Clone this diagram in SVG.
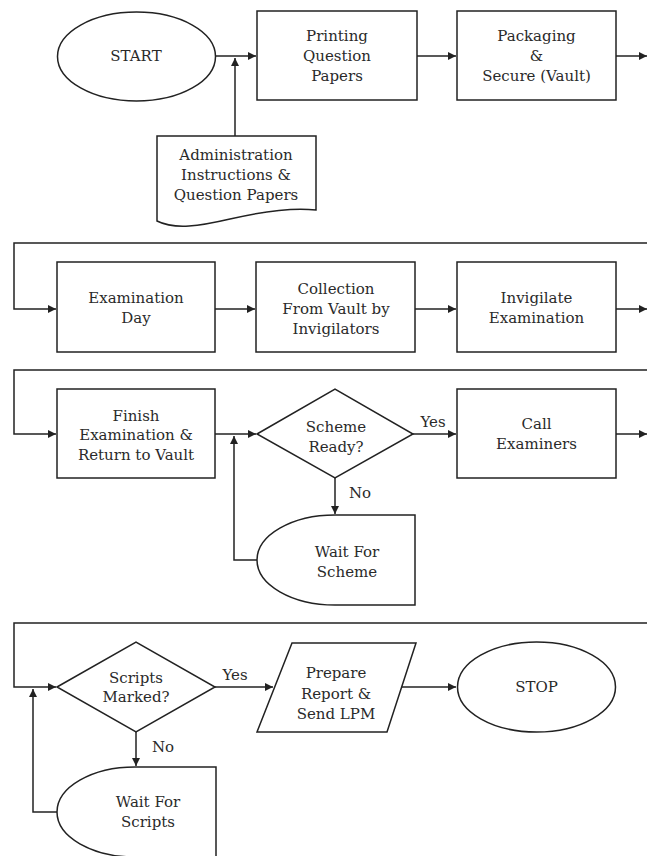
<svg xmlns="http://www.w3.org/2000/svg" width="647" height="856" viewBox="0 0 647 856">
<defs>
<style>
.s{fill:#fff;stroke:#222;stroke-width:1.5}
.c{fill:none;stroke:#222;stroke-width:1.5}
text{font-family:"DejaVu Serif","Liberation Serif",serif;font-size:15px;fill:#2a2a2a;text-anchor:middle}
</style>
<marker id="ah" viewBox="0 0 10 10" refX="10" refY="5" markerWidth="9" markerHeight="8" markerUnits="userSpaceOnUse" orient="auto">
<path d="M0,0 L10,5 L0,10 z" fill="#222"/>
</marker>
</defs>
<rect width="647" height="856" fill="#fff"/>
<g id="connectors">
<path class="c" d="M216,56 L256,56" marker-end="url(#ah)"/>
<path class="c" d="M235,136 L235,58" marker-end="url(#ah)"/>
<path class="c" d="M417,56 L456,56" marker-end="url(#ah)"/>
<path class="c" d="M616,56 L647,56" marker-end="url(#ah)"/>
<path class="c" d="M647,243 L14,243 L14,309 L56,309" marker-end="url(#ah)"/>
<path class="c" d="M215,309 L255,309" marker-end="url(#ah)"/>
<path class="c" d="M415,309 L456,309" marker-end="url(#ah)"/>
<path class="c" d="M616,309 L647,309" marker-end="url(#ah)"/>
<path class="c" d="M647,370 L14,370 L14,434 L56,434" marker-end="url(#ah)"/>
<path class="c" d="M215,434 L256,434" marker-end="url(#ah)"/>
<path class="c" d="M257,560 L234,560 L234,436" marker-end="url(#ah)"/>
<path class="c" d="M335,478 L335,514" marker-end="url(#ah)"/>
<path class="c" d="M413,434 L456,434" marker-end="url(#ah)"/>
<path class="c" d="M616,434 L647,434" marker-end="url(#ah)"/>
<path class="c" d="M647,623 L14,623 L14,687 L56,687" marker-end="url(#ah)"/>
<path class="c" d="M57,812 L33,812 L33,689" marker-end="url(#ah)"/>
<path class="c" d="M136,732 L136,766" marker-end="url(#ah)"/>
<path class="c" d="M215,687 L273,687" marker-end="url(#ah)"/>
<path class="c" d="M401,687 L456,687" marker-end="url(#ah)"/>
</g>
<g id="start"><ellipse class="s" cx="136.5" cy="56.5" rx="79" ry="44.5"/><text x="136" y="61">START</text></g>
<g id="printing"><rect class="s" x="257" y="11" width="160" height="89"/><text x="337" y="41">Printing</text><text x="337" y="61">Question</text><text x="337" y="81">Papers</text></g>
<g id="packaging"><rect class="s" x="457" y="11" width="159" height="89"/><text x="536.5" y="41">Packaging</text><text x="536.5" y="61">&amp;</text><text x="536.5" y="81">Secure (Vault)</text></g>
<g id="admin"><path class="s" d="M157,136 L316,136 L316,210 C290,207 260,212 230,219 C200,226 175,230 157,221 Z"/><text x="236" y="160">Administration</text><text x="236" y="180">Instructions &amp;</text><text x="236" y="200">Question Papers</text></g>
<g id="examday"><rect class="s" x="57" y="262" width="158" height="90"/><text x="136" y="303">Examination</text><text x="136" y="323">Day</text></g>
<g id="collection"><rect class="s" x="256" y="262" width="159" height="90"/><text x="336" y="294">Collection</text><text x="336" y="314">From Vault by</text><text x="336" y="334">Invigilators</text></g>
<g id="invigilate"><rect class="s" x="457" y="262" width="159" height="90"/><text x="536.5" y="303">Invigilate</text><text x="536.5" y="323">Examination</text></g>
<g id="finish"><rect class="s" x="57" y="389" width="158" height="89"/><text x="136" y="421">Finish</text><text x="136" y="440">Examination &amp;</text><text x="136" y="460">Return to Vault</text></g>
<g id="scheme"><path class="s" d="M257,434 L335,389 L413,434 L335,478 Z"/><text x="336" y="432">Scheme</text><text x="336" y="452">Ready?</text></g>
<g id="yes1"><text x="433" y="427">Yes</text></g>
<g id="no1"><text x="360" y="498">No</text></g>
<g id="waitscheme"><path class="s" d="M415,515 L335,515 A78,45 0 0 0 335,605 L415,605 Z"/><text x="347" y="557">Wait For</text><text x="347" y="577">Scheme</text></g>
<g id="call"><rect class="s" x="457" y="389" width="159" height="89"/><text x="536.5" y="429">Call</text><text x="536.5" y="449">Examiners</text></g>
<g id="scripts"><path class="s" d="M57,687 L136,642 L215,687 L136,732 Z"/><text x="136" y="683">Scripts</text><text x="136" y="702">Marked?</text></g>
<g id="yes2"><text x="235" y="680">Yes</text></g>
<g id="no2"><text x="163" y="752">No</text></g>
<g id="waitscripts"><path class="s" d="M216,767 L135,767 A78,45 0 0 0 135,857 L216,857 Z"/><text x="148" y="807">Wait For</text><text x="148" y="827">Scripts</text></g>
<g id="prepare"><path class="s" d="M292,643 L416,643 L387,732 L257,732 Z"/><text x="336" y="678">Prepare</text><text x="336" y="699">Report &amp;</text><text x="336" y="719">Send LPM</text></g>
<g id="stop"><ellipse class="s" cx="536.5" cy="687" rx="79" ry="45"/><text x="536.5" y="692">STOP</text></g>
</svg>
